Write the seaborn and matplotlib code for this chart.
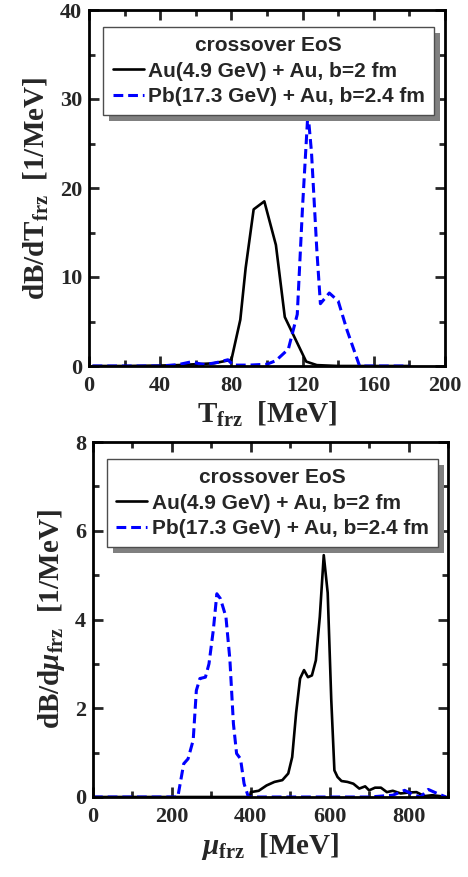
import numpy as np
import pandas as pd
import seaborn as sns
import matplotlib.pyplot as plt
from matplotlib.ticker import MultipleLocator
from matplotlib.patches import Rectangle
from matplotlib.transforms import IdentityTransform

# =============================================================================
# Data
# =============================================================================

# Top panel: dB/dT_frz vs T_frz
t_au = [2, 20, 40, 50, 60, 70, 80, 85, 88, 92.5, 98.5, 105, 110, 116, 122, 128, 140, 160, 180]
b_au_t = [0, 0, 0.05, 0.1, 0.2, 0.3, 0.7, 5.2, 11, 17.6, 18.5, 13.6, 5.5, 3.0, 0.5, 0.1, 0, 0, 0]

t_pb = [2, 20, 40, 50, 57, 65, 72, 78, 81, 90, 100, 105, 112, 117, 120, 123, 125, 128, 130,
        135, 140, 145, 152, 160, 180]
b_pb_t = [0, 0, 0, 0.15, 0.45, 0.15, 0.4, 0.7, 0.1, 0.1, 0.2, 0.6, 1.9, 5.8, 18, 28.5, 24, 13, 7.0,
          8.2, 7.3, 4.0, 0, 0, 0]

# Bottom panel: dB/dmu_frz vs mu_frz
mu_au = [0, 200, 398, 400, 420, 440, 460, 480, 495, 505, 515, 525, 535, 545, 555, 565, 575, 585,
         595, 604, 612, 620, 630, 645, 660, 675, 690, 700, 715, 730, 745, 760, 780, 800,
         820, 840, 860, 880, 895]
b_au_mu = [0, 0, 0, 0.11, 0.14, 0.26, 0.34, 0.38, 0.53, 0.9, 1.9, 2.67, 2.86, 2.7, 2.74, 3.08, 4.06, 5.45,
           4.6, 2.2, 0.6, 0.45, 0.36, 0.34, 0.3, 0.19, 0.24, 0.15, 0.21, 0.21, 0.11, 0.14, 0.08, 0.1,
           0.11, 0.02, 0.04, 0.02, 0]

mu_pb = [0, 100, 215, 230, 241, 254, 262, 271, 285, 294, 305, 314, 323, 337, 347, 356, 364, 374, 383,
         394, 500, 700, 760, 790, 810, 830, 850, 870, 895]
b_pb_mu = [0, 0, 0, 0.75, 0.86, 1.28, 2.4, 2.67, 2.7, 3.0, 3.76, 4.58, 4.47, 4.06, 3.1, 1.65, 0.98, 0.86, 0.3,
           0, 0, 0, 0.04, 0.15, 0.06, 0.0, 0.17, 0.09, 0]

legend_title = "crossover EoS"
label_au = "Au(4.9 GeV) + Au, b=2 fm"
label_pb = "Pb(17.3 GeV) + Au, b=2.4 fm"

# =============================================================================
# Style
# =============================================================================

sns.set_style("ticks")
plt.rcParams["font.family"] = ["Liberation Serif", "DejaVu Serif"]
plt.rcParams["font.weight"] = "bold"
plt.rcParams["mathtext.fontset"] = "custom"
plt.rcParams["mathtext.rm"] = "Liberation Serif:bold"
plt.rcParams["mathtext.bf"] = "Liberation Serif:bold"
plt.rcParams["mathtext.it"] = "Liberation Serif:bold:italic"


def format_plot(ax, xmaj, xmin, ymaj, ymin):
    for spine in ax.spines.values():
        spine.set_color("black")
        spine.set_linewidth(2.0)
    ax.xaxis.set_major_locator(MultipleLocator(xmaj))
    ax.xaxis.set_minor_locator(MultipleLocator(xmin))
    ax.yaxis.set_major_locator(MultipleLocator(ymaj))
    ax.yaxis.set_minor_locator(MultipleLocator(ymin))
    ax.tick_params(which="both", direction="in", top=True, right=True, width=2.0,
                   labelsize=16)
    ax.tick_params(axis="x", pad=7)
    ax.tick_params(axis="y", pad=5)
    ax.tick_params(which="major", length=7)
    ax.tick_params(which="minor", length=4.5)
    for lab in ax.get_xticklabels() + ax.get_yticklabels():
        lab.set_fontweight("bold")


def add_legend(ax, anchor):
    leg = ax.legend(
        loc="upper left",
        bbox_to_anchor=anchor,
        borderaxespad=0,
        title=legend_title,
        prop={"family": "Liberation Sans", "weight": "bold", "size": 15},
        title_fontproperties={"family": "Liberation Sans", "weight": "bold", "size": 15},
        fancybox=False,
        edgecolor="0.3",
        framealpha=1,
        handlelength=1.5,
        handletextpad=0.2,
        borderpad=0.45,
        labelspacing=0.3,
    )
    leg.get_frame().set_linewidth(1.0)
    leg.set_zorder(10)
    return leg


def add_shadow(ax, leg, offset=6):
    # grey drop shadow, offset down-right like the original
    fig.canvas.draw()
    bb = leg.get_window_extent()
    shadow = Rectangle((bb.x0 + offset, bb.y0 - offset), bb.width, bb.height,
                       facecolor="0.5", edgecolor="none", transform=IdentityTransform(),
                       zorder=9)
    ax.add_artist(shadow)


fig = plt.figure(figsize=(4.68, 8.77), dpi=100)

# =============================================================================
# Top panel: T_frz
# =============================================================================

ax1 = fig.add_axes([89 / 468, (877 - 366) / 877, 356 / 468, 356 / 877])

df_au_t = pd.DataFrame({"T": t_au, "dB": b_au_t})
df_pb_t = pd.DataFrame({"T": t_pb, "dB": b_pb_t})

sns.lineplot(data=df_au_t, x="T", y="dB", color="black", linewidth=1.9,
             label=label_au, ax=ax1, sort=False)
sns.lineplot(data=df_pb_t, x="T", y="dB", color="#0000ff", linewidth=2.2,
             linestyle=(0, (3.2, 1.6)), label=label_pb, ax=ax1, sort=False)

ax1.set_xlim(0, 200)
ax1.set_ylim(0, 40)
ax1.set_xlabel(r"T$_{\rm frz}$  [MeV]", fontsize=21, fontweight="bold", labelpad=3)
ax1.set_ylabel(r"dB/dT$_{\rm frz}$  [1/MeV]", fontsize=21, fontweight="bold", labelpad=6)
format_plot(ax1, 40, 20, 10, 5)
leg1 = add_legend(ax1, (0.04, 0.952))

# =============================================================================
# Bottom panel: mu_frz
# =============================================================================

ax2 = fig.add_axes([93 / 468, (877 - 797) / 877, 355 / 468, 355 / 877])

df_au_mu = pd.DataFrame({"mu": mu_au, "dB": b_au_mu})
df_pb_mu = pd.DataFrame({"mu": mu_pb, "dB": b_pb_mu})

sns.lineplot(data=df_au_mu, x="mu", y="dB", color="black", linewidth=1.9,
             label=label_au, ax=ax2, sort=False)
sns.lineplot(data=df_pb_mu, x="mu", y="dB", color="#0000ff", linewidth=2.2,
             linestyle=(0, (3.2, 1.6)), label=label_pb, ax=ax2, sort=False)

ax2.set_xlim(0, 900)
ax2.set_ylim(0, 8)
ax2.set_xlabel(r"$\mu_{\rm frz}$  [MeV]", fontsize=21, fontweight="bold", labelpad=3)
ax2.set_ylabel(r"dB/d$\mu_{\rm frz}$  [1/MeV]", fontsize=21, fontweight="bold", labelpad=6)
format_plot(ax2, 200, 100, 2, 1)
leg2 = add_legend(ax2, (0.039, 0.952))

add_shadow(ax1, leg1)
add_shadow(ax2, leg2)

plt.savefig("out.png", dpi=100)
